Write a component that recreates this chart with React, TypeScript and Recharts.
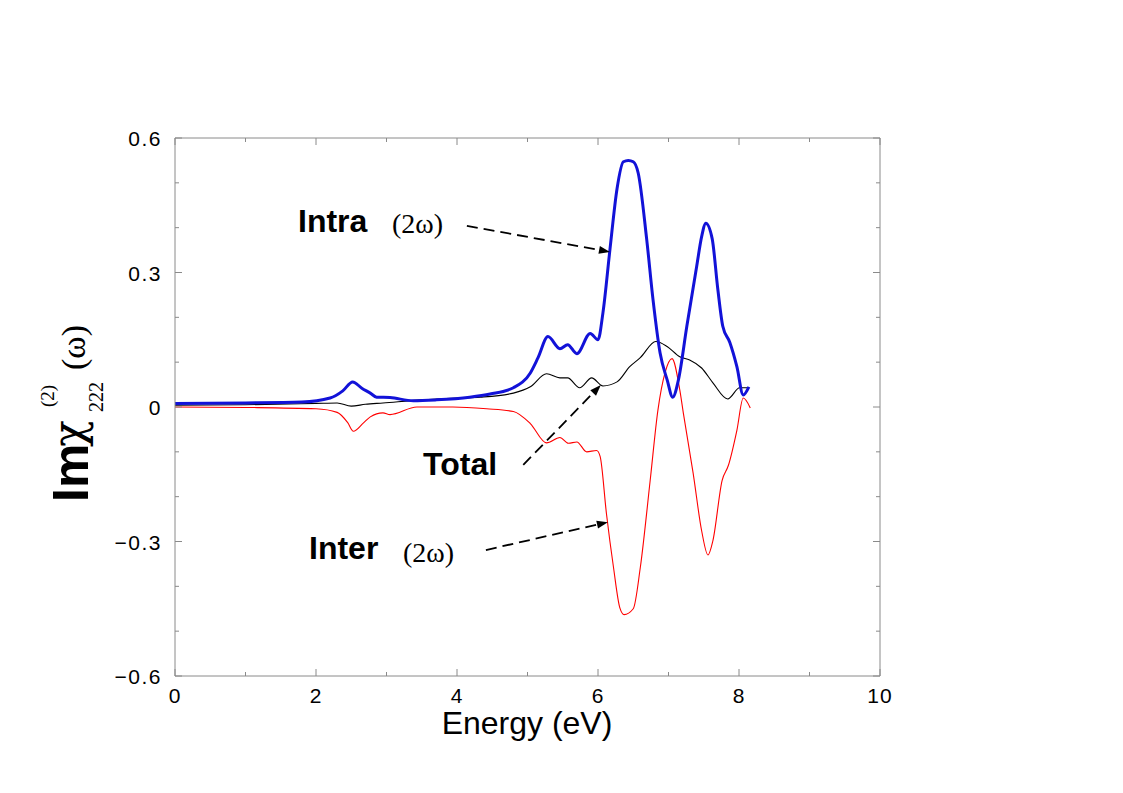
import React from 'react';
import { LineChart, Line, XAxis, YAxis, ReferenceLine } from 'recharts';

// ---- data ----
const energyIntra = [0, 1.0, 1.8, 2.2, 2.38, 2.52, 2.65, 2.77, 2.86, 3.05, 3.38, 3.71, 4.18, 4.47, 4.8, 5.04, 5.15, 5.29, 5.46, 5.57, 5.7, 5.89, 6.0, 6.07, 6.17, 6.27, 6.36, 6.43, 6.5, 6.57, 6.69, 6.78, 6.88, 6.98, 7.06, 7.14, 7.26, 7.4, 7.47, 7.53, 7.62, 7.7, 7.77, 7.87, 7.97, 8.06, 8.14];
const intraValues = [0.008, 0.009, 0.011, 0.02, 0.036, 0.056, 0.042, 0.031, 0.022, 0.021, 0.014, 0.016, 0.022, 0.029, 0.043, 0.076, 0.11, 0.157, 0.13, 0.139, 0.119, 0.164, 0.15, 0.21, 0.352, 0.487, 0.547, 0.55, 0.547, 0.522, 0.375, 0.24, 0.121, 0.061, 0.022, 0.06, 0.18, 0.314, 0.38, 0.41, 0.375, 0.262, 0.18, 0.144, 0.09, 0.027, 0.045];

const energyTotal = [0, 1.0, 2.0, 2.3, 2.5, 2.7, 2.95, 3.5, 4.0, 4.33, 4.8, 5.04, 5.27, 5.46, 5.57, 5.74, 5.91, 6.07, 6.27, 6.45, 6.6, 6.82, 6.98, 7.16, 7.3, 7.47, 7.63, 7.84, 8.01, 8.14];
const totalValues = [0.004, 0.005, 0.008, 0.009, 0.002, 0.006, 0.009, 0.016, 0.02, 0.022, 0.031, 0.045, 0.074, 0.065, 0.065, 0.043, 0.065, 0.047, 0.056, 0.09, 0.11, 0.146, 0.135, 0.112, 0.105, 0.087, 0.054, 0.018, 0.043, 0.043];

const energyInter = [0, 1.0, 2.0, 2.3, 2.45, 2.53, 2.67, 2.77, 2.95, 3.05, 3.43, 3.94, 4.42, 4.8, 5.04, 5.27, 5.46, 5.58, 5.7, 5.84, 5.98, 6.03, 6.12, 6.22, 6.31, 6.37, 6.5, 6.6, 6.74, 6.85, 6.95, 7.05, 7.16, 7.21, 7.35, 7.47, 7.56, 7.63, 7.76, 7.85, 7.97, 8.06, 8.16];
const interValues = [0.0, -0.001, -0.004, -0.012, -0.035, -0.054, -0.036, -0.022, -0.013, -0.017, 0.0, 0.0, -0.004, -0.01, -0.037, -0.08, -0.068, -0.081, -0.078, -0.1, -0.097, -0.11, -0.238, -0.358, -0.448, -0.463, -0.45, -0.358, -0.164, -0.007, 0.076, 0.108, 0.038, -0.013, -0.148, -0.276, -0.33, -0.298, -0.164, -0.13, -0.052, 0.02, -0.002];

const xTicks = [0, 1, 2, 3, 4, 5, 6, 7, 8, 9, 10];
const yTicks = [-0.6, -0.5, -0.4, -0.3, -0.2, -0.1, 0, 0.1, 0.2, 0.3, 0.4, 0.5, 0.6];

// annotation arrows in data coordinates [fromX, fromY, toX, toY]
const arrowIntra = [4.14, 0.404, 6.17, 0.346];
const arrowTotal = [4.94, -0.129, 6.04, 0.049];
const arrowInter = [4.41, -0.319, 6.14, -0.257];

const intraData = energyIntra.map((e, i) => ({ e, v: intraValues[i] }));
const totalData = energyTotal.map((e, i) => ({ e, v: totalValues[i] }));
const interData = energyInter.map((e, i) => ({ e, v: interValues[i] }));

const GREY = '#8a8a8a';
const SANS = 'Liberation Sans, Arial, Helvetica, sans-serif';
const SERIF = 'Liberation Serif, Times New Roman, serif';

const fmtY = (v: number) => {
  const r = Math.round(v * 10) / 10;
  if (r === 0) return '0';
  return r < 0 ? '\u2212' + Math.abs(r).toFixed(1) : r.toFixed(1);
};

const BottomTick = (p: any) => {
  const v = p.payload.value;
  const major = Math.round(v) % 2 === 0;
  return (
    <g>
      <line x1={p.x} y1={p.y} x2={p.x} y2={p.y - (major ? 7 : 4)} stroke={GREY} strokeWidth={1} />
      {major && (
        <text x={p.x} y={p.y + 27} textAnchor="middle" fontSize={21} fontFamily={SANS} fill="#000" letterSpacing={1}>
          {String(v)}
        </text>
      )}
    </g>
  );
};
const TopTick = (p: any) => {
  const v = p.payload.value;
  const major = Math.round(v) % 2 === 0;
  return <line x1={p.x} y1={p.y} x2={p.x} y2={p.y + (major ? 7 : 4)} stroke={GREY} strokeWidth={1} />;
};
const LeftTick = (p: any) => {
  const v = p.payload.value;
  const major = Math.round(v * 10) % 3 === 0;
  return (
    <g>
      <line x1={p.x} y1={p.y} x2={p.x + (major ? 7 : 4)} y2={p.y} stroke={GREY} strokeWidth={1} />
      {major && (
        <text x={p.x - 13} y={p.y + 8} textAnchor="end" fontSize={21} fontFamily={SANS} fill="#000" letterSpacing={1.5}>
          {fmtY(v)}
        </text>
      )}
    </g>
  );
};
const RightTick = (p: any) => {
  const v = p.payload.value;
  const major = Math.round(v * 10) % 3 === 0;
  return <line x1={p.x} y1={p.y} x2={p.x - (major ? 7 : 4)} y2={p.y} stroke={GREY} strokeWidth={1} />;
};

const ArrowShape = (p: any) => {
  const { x1, y1, x2, y2 } = p;
  const dx = x2 - x1;
  const dy = y2 - y1;
  const len = Math.sqrt(dx * dx + dy * dy) || 1;
  const ux = dx / len;
  const uy = dy / len;
  const hl = 11;
  const hw = 4;
  const bx = x2 - ux * hl;
  const by = y2 - uy * hl;
  const pts = `${x2},${y2} ${bx - uy * hw},${by + ux * hw} ${bx + uy * hw},${by - ux * hw}`;
  return (
    <g>
      <line x1={x1} y1={y1} x2={bx} y2={by} stroke="#000" strokeWidth={1.8} strokeDasharray="11 6" />
      <polygon points={pts} fill="#000" />
    </g>
  );
};

const seg = (a: number[]) => [
  { x: a[0], y: a[1] },
  { x: a[2], y: a[3] },
];

export default function App() {
  return (
    <div style={{ position: 'absolute', left: 0, top: 0, width: 1123, height: 793, background: '#fff' }}>
      <LineChart
        width={1123}
        height={793}
        data={intraData}
        margin={{ top: 137, right: 242, bottom: 116, left: 174 }}
      >
        <XAxis
          xAxisId="b"
          type="number"
          dataKey="e"
          domain={[0, 10]}
          ticks={xTicks}
          orientation="bottom"
          height={1}
          tickSize={0}
          tickMargin={0}
          tickLine={false}
          axisLine={{ stroke: GREY, strokeWidth: 1 }}
          tick={BottomTick}
          allowDataOverflow
          interval={0}
        />
        <XAxis
          xAxisId="t"
          type="number"
          dataKey="e"
          domain={[0, 10]}
          ticks={xTicks}
          orientation="top"
          height={1}
          tickSize={0}
          tickMargin={0}
          tickLine={false}
          axisLine={{ stroke: GREY, strokeWidth: 1 }}
          tick={TopTick}
          allowDataOverflow
          interval={0}
        />
        <YAxis
          yAxisId="l"
          type="number"
          dataKey="v"
          domain={[-0.6, 0.6]}
          ticks={yTicks}
          orientation="left"
          width={1}
          tickSize={0}
          tickMargin={0}
          tickLine={false}
          axisLine={{ stroke: GREY, strokeWidth: 1 }}
          tick={LeftTick}
          allowDataOverflow
          interval={0}
        />
        <YAxis
          yAxisId="r"
          type="number"
          dataKey="v"
          domain={[-0.6, 0.6]}
          ticks={yTicks}
          orientation="right"
          width={1}
          tickSize={0}
          tickMargin={0}
          tickLine={false}
          axisLine={{ stroke: GREY, strokeWidth: 1 }}
          tick={RightTick}
          allowDataOverflow
          interval={0}
        />
        <Line
          xAxisId="b"
          yAxisId="l"
          data={totalData}
          dataKey="v"
          type="monotone"
          stroke="#000000"
          strokeWidth={1.1}
          dot={false}
          activeDot={false}
          isAnimationActive={false}
        />
        <Line
          xAxisId="b"
          yAxisId="l"
          data={interData}
          dataKey="v"
          type="monotone"
          stroke="#ff0000"
          strokeWidth={1.1}
          dot={false}
          activeDot={false}
          isAnimationActive={false}
        />
        <Line
          xAxisId="b"
          yAxisId="l"
          data={intraData}
          dataKey="v"
          type="monotone"
          stroke="#1212d8"
          strokeWidth={3}
          dot={false}
          activeDot={false}
          isAnimationActive={false}
        />
        <ReferenceLine xAxisId="b" yAxisId="l" segment={seg(arrowIntra)} shape={ArrowShape} ifOverflow="visible" />
        <ReferenceLine xAxisId="b" yAxisId="l" segment={seg(arrowTotal)} shape={ArrowShape} ifOverflow="visible" />
        <ReferenceLine xAxisId="b" yAxisId="l" segment={seg(arrowInter)} shape={ArrowShape} ifOverflow="visible" />
      </LineChart>
      <svg
        width={1123}
        height={793}
        style={{ position: 'absolute', left: 0, top: 0, pointerEvents: 'none' }}
      >
        <text x={298} y={232} fontFamily={SANS} fontWeight="bold" fontSize={32} fill="#000">Intra</text>
        <text x={392} y={233} fontFamily={SERIF} fontSize={28} fill="#000">(2ω)</text>
        <text x={423} y={475} fontFamily={SANS} fontWeight="bold" fontSize={32} fill="#000">Total</text>
        <text x={309} y={559} fontFamily={SANS} fontWeight="bold" fontSize={32} fill="#000">Inter</text>
        <text x={403} y={562} fontFamily={SERIF} fontSize={28} fill="#000">(2ω)</text>
        <text x={527} y={734} textAnchor="middle" fontFamily={SANS} fontSize={32} fill="#000">Energy (eV)</text>
        <g transform="translate(88,503) rotate(-90)">
          <text x={1} y={0} fontFamily={SANS} fontWeight="bold" fontSize={50} fill="#000">Im</text>
          <text x={56} y={-4} fontFamily="DejaVu Serif, serif" fontSize={44} fill="#000">χ</text>
          <text x={96} y={-34} fontFamily={SERIF} fontSize={19} fill="#000">(2)</text>
          <text x={91} y={15} fontFamily={SERIF} fontSize={20} fill="#000">222</text>
          <text x={133} y={-3} fontFamily={SERIF} fontSize={34} fill="#000">(ω)</text>
        </g>
      </svg>
    </div>
  );
}
